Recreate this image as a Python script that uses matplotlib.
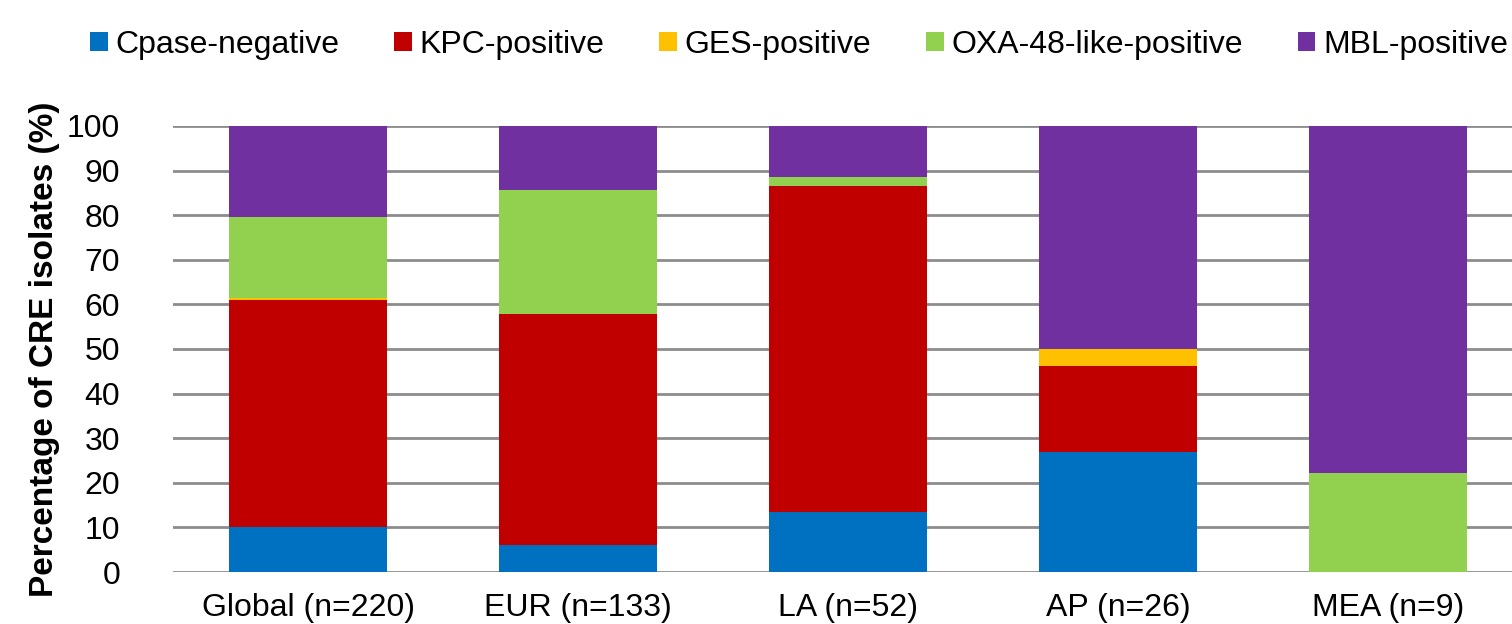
import numpy as np
import matplotlib
matplotlib.use("Agg")
import matplotlib.pyplot as plt
from matplotlib.patches import Patch

plt.rcParams['font.family'] = ['Liberation Sans', 'DejaVu Sans']

regions = ['Global (n=220)', 'EUR (n=133)', 'LA (n=52)', 'AP (n=26)', 'MEA (n=9)']
series = ['Cpase-negative', 'KPC-positive', 'GES-positive', 'OXA-48-like-positive', 'MBL-positive']
colors = ['#0070C0', '#C00000', '#FFC000', '#92D050', '#7030A0']

# percentage of isolates per region
cpase_neg = [10.0, 6.0, 13.5, 26.9, 0.0]
kpc_pos   = [50.9, 51.9, 73.1, 19.2, 0.0]
ges_pos   = [0.5, 0.0, 0.0, 3.9, 0.0]
oxa48_pos = [18.2, 27.8, 1.9, 0.0, 22.2]
mbl_pos   = [20.4, 14.3, 11.5, 50.0, 77.8]

data = [cpase_neg, kpc_pos, ges_pos, oxa48_pos, mbl_pos]

fig = plt.figure(figsize=(15.12, 6.24), dpi=100)
ax = fig.add_axes([173/1512, 52/624, 1350/1512, 446/624])

x = np.arange(len(regions))
bottom = np.zeros(len(regions))
for vals, col, name in zip(data, colors, series):
    ax.bar(x, vals, width=0.585, bottom=bottom, color=col, label=name, zorder=3)
    bottom += np.array(vals)

ax.set_xlim(-0.5, 4.5)
ax.set_ylim(0, 100)
ax.set_yticks(range(0, 101, 10))
ax.yaxis.grid(True, color='#8c8c8c', linewidth=2, zorder=0)
for s in ax.spines.values():
    s.set_visible(False)
ax.tick_params(axis='y', length=0, pad=38, labelsize=23)
ax.tick_params(axis='x', length=0, pad=15, labelsize=23)
ax.set_xticks(x)
ax.set_xticklabels(regions)
ax.set_ylabel('Percentage of CRE isolates (%)', fontsize=24, fontweight='bold')
ax.yaxis.set_label_coords(-0.084, 0.5)

handles = [Patch(facecolor=c, edgecolor='none') for c in colors]
fig.legend(handles, series, loc='center left', bbox_to_anchor=(90/1512, 1 - 45/624),
           ncol=5, frameon=False, fontsize=23, handlelength=0.55, handleheight=0.55,
           handletextpad=0.25, columnspacing=1.71, borderaxespad=0, borderpad=0)

fig.savefig('out.png', dpi=100)
